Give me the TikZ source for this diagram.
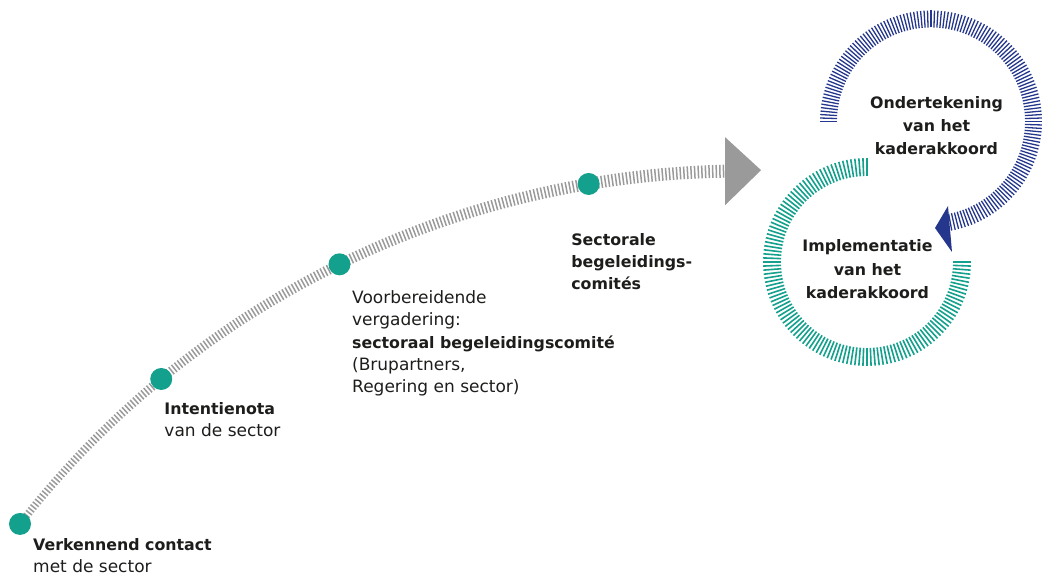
\documentclass[tikz,border=0pt]{standalone}
\usepackage{fontspec}
\setmainfont{DejaVu Sans}
\usetikzlibrary{positioning}
\definecolor{brugreen}{HTML}{13A08C}
\definecolor{brublue}{HTML}{24378C}
\definecolor{brugray}{HTML}{9A9A9A}
\definecolor{brutext}{HTML}{1D1D1B}
\newcommand\stepkey[1]{{\fontsize{15.8}{22.3}\selectfont\bfseries #1}}
\tikzset{
  dot/.style={circle, fill=brugreen, minimum size=22pt, inner sep=0pt},
  steptext/.style={align=left, inner sep=0pt, text=brutext, font=\fontsize{17}{22.3}\selectfont},
  cycletext/.style={align=center, inner sep=0pt, text=brutext, font=\fontsize{15.8}{23.3}\selectfont\bfseries},
}

\begin{document}
\begin{tikzpicture}[x=1pt, y=1pt]
\useasboundingbox (0,0) rectangle (1042,577);
\coordinate (track) at (742,-509);
\coordinate (sign) at (931,455.5);
\coordinate (impl) at (867,315);
% grey track
\foreach \i in {0,...,226} {
 \pgfmathsetmacro\a{142.1-0.2254*\i}
 \pgfmathsetmacro\w{7.5+0.0243*\i}
 \draw[brugray, line width=1.5pt] (track) ++(\a:{915-\w/2}) -- ++(\a:\w);
}
\path (track) ++(91.06:915) coordinate (trackend);
\fill[brugray] ([yshift=34]trackend) -- ([shift={(36,1)}]trackend) -- ([yshift=-34]trackend) -- cycle;
% blue circle
\foreach \i in {0,...,144} {
 \pgfmathsetmacro\a{180-1.8*\i}
 \draw[brublue, line width=1.3pt] (sign) ++(\a:94) -- ++(\a:17);
}
\fill[brublue] ([shift={(4,-106.5)}]sign) -- ([shift={(17,-84.5)}]sign) -- ([shift={(21,-130.5)}]sign) -- cycle;
% green circle
\foreach \i in {0,...,120} {
 \pgfmathsetmacro\a{90+2.25*\i}
 \draw[brugreen, line width=1.6pt] (impl) ++(\a:86) -- ++(\a:18);
}
% steps
\path (track) ++(142.1:915) node[dot] (d1) {};
\path (track) ++(129.4:915) node[dot] (d2) {};
\path (track) ++(116.1:915) node[dot] (d3) {};
\path (track) ++(99.65:915) node[dot] (d4) {};
\node[steptext, below right=14pt and 13pt of d1.center] (t1) {\stepkey{Verkennend contact}\\met de sector};
\node[steptext, below right=23pt and 3pt of d2.center] (t2) {\stepkey{Intentienota}\\van de sector};
\node[steptext, below right=26pt and 12.5pt of d3.center] (t3) {Voorbereidende\\vergadering:\\\stepkey{sectoraal begeleidingscomité}\\(Brupartners,\\Regering en sector)};
\node[steptext, below right=49pt and -17.5pt of d4.center] (t4) {\stepkey{Sectorale}\\\stepkey{begeleidings-}\\\stepkey{comités}};
\node[cycletext, anchor=north] (t5) at ([shift={(5.5,25.5)}]sign) {Ondertekening\\van het\\kaderakkoord};
\node[cycletext, anchor=north] (t6) at ([shift={(0.5,22.3)}]impl) {Implementatie\\van het\\kaderakkoord};
\end{tikzpicture}
\end{document}
